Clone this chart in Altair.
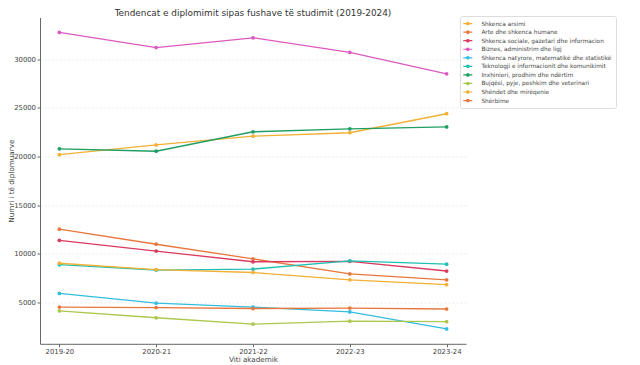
import altair as alt
import pandas as pd

years = ["2019-20", "2020-21", "2021-22", "2022-23", "2023-24"]
fields = [
    "Shkenca arsimi",
    "Arte dhe shkenca humane",
    "Shkenca sociale, gazetari dhe informacion",
    "Biznes, administrim dhe ligj",
    "Shkenca natyrore, matematikë dhe statistikë",
    "Teknologji e informacionit dhe komunikimit",
    "Inxhinieri, prodhim dhe ndërtim",
    "Bujqësi, pyje, peshkim dhe veterinari",
    "Shëndet dhe mirëqenie",
    "Shërbime",
]
colors = ["#f2b035", "#e8773f", "#d93a5e", "#dd58c0", "#33bde0",
          "#1fc0b4", "#1e9e62", "#acc84c", "#f2b035", "#e8773f"]

arsimi = [20200, 21200, 22100, 22450, 24400]
arte = [12550, 11000, 9500, 7950, 7350]
sociale = [11400, 10300, 9200, 9250, 8250]
biznes = [32750, 31200, 32200, 30700, 28500]
natyrore = [5950, 4950, 4550, 4050, 2300]
teknologji = [8900, 8350, 8450, 9300, 8950]
inxhinieri = [20800, 20550, 22550, 22850, 23050]
bujqesi = [4150, 3450, 2800, 3100, 3050]
shendet = [9050, 8400, 8100, 7350, 6850]
sherbime = [4550, 4500, 4400, 4450, 4350]

series = [arsimi, arte, sociale, biznes, natyrore, teknologji,
          inxhinieri, bujqesi, shendet, sherbime]

rows = []
for f, vals in zip(fields, series):
    for y, v in zip(years, vals):
        rows.append({"Viti": y, "Fusha": f, "Numri": v})
df = pd.DataFrame(rows)

sym = "M-1.5,0H1.5M0.4,0A0.4,0.4,0,1,1,-0.4,0A0.4,0.4,0,1,1,0.4,0Z"

leg = alt.Legend(
    title=None, orient="none", legendX=420, legendY=-1.5,
    symbolType=sym, symbolSize=36, symbolStrokeWidth=1.2,
    symbolOffset=0.2, labelOffset=9.6,
    labelFontSize=5.8, labelFont="DejaVu Sans",
    labelColor="#444444", rowPadding=0.55, padding=3.6,
    strokeColor="#dddddd", fillColor="white", cornerRadius=2,
    labelLimit=200,
)

chart = alt.Chart(df).mark_line(
    strokeWidth=1.3,
    point=alt.OverlayMarkDef(filled=True, size=14, strokeWidth=0),
).encode(
    x=alt.X("Viti:O", sort=years,
            scale=alt.Scale(type="point", padding=0.2),
            axis=alt.Axis(title="Viti akademik", labelAngle=0)),
    y=alt.Y("Numri:Q",
            scale=alt.Scale(domain=[777, 34283], nice=False, zero=False),
            axis=alt.Axis(title="Numri i të diplomuarve",
                          values=[5000, 10000, 15000, 20000, 25000, 30000],
                          format="d", titleX=-24.5, labelPadding=1.5)),
    color=alt.Color("Fusha:N", sort=fields,
                    scale=alt.Scale(domain=fields, range=colors),
                    legend=leg),
).properties(
    width=426, height=326.3,
    title=alt.TitleParams("Tendencat e diplomimit sipas fushave të studimit (2019-2024)",
                          fontSize=8.9, font="DejaVu Sans", fontWeight="normal",
                          color="#333", anchor="middle", offset=-2),
    autosize=alt.AutoSizeParams(type="none"),
    padding={"left": 32, "top": 9.5, "right": 166, "bottom": 20},
).configure_view(stroke=None).configure_legend(
    labelColor="#444444"
).configure_axis(
    labelFont="DejaVu Sans", titleFont="DejaVu Sans",
    labelFontSize=6.9, titleFontSize=7.2, titleFontWeight="normal",
    labelColor="#444", titleColor="#444",
    domainColor="#666", tickColor="#666", tickSize=3,
    gridColor="#e4e4e4", gridDash=[2, 2], gridWidth=0.8,
    labelPadding=2,
).configure_axisX(titlePadding=1)

chart.save("out.html", embed_options={"renderer": "svg", "actions": False})
